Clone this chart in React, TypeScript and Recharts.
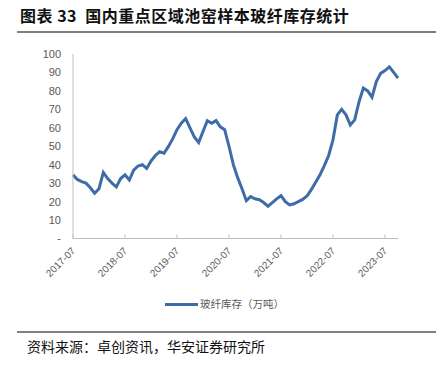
import { LineChart, Line, XAxis, YAxis } from "recharts";

const months = [
  "2017-07", "2017-08", "2017-09", "2017-10", "2017-11", "2017-12",
  "2018-01", "2018-02", "2018-03", "2018-04", "2018-05", "2018-06",
  "2018-07", "2018-08", "2018-09", "2018-10", "2018-11", "2018-12",
  "2019-01", "2019-02", "2019-03", "2019-04", "2019-05", "2019-06",
  "2019-07", "2019-08", "2019-09", "2019-10", "2019-11", "2019-12",
  "2020-01", "2020-02", "2020-03", "2020-04", "2020-05", "2020-06",
  "2020-07", "2020-08", "2020-09", "2020-10", "2020-11", "2020-12",
  "2021-01", "2021-02", "2021-03", "2021-04", "2021-05", "2021-06",
  "2021-07", "2021-08", "2021-09", "2021-10", "2021-11", "2021-12",
  "2022-01", "2022-02", "2022-03", "2022-04", "2022-05", "2022-06",
  "2022-07", "2022-08", "2022-09", "2022-10", "2022-11", "2022-12",
  "2023-01", "2023-02", "2023-03", "2023-04", "2023-05", "2023-06",
  "2023-07", "2023-08", "2023-09", "2023-10",
];

// 玻纤库存（万吨）
const inventory = [
  34.5, 32, 30.8, 30, 27.5, 24.5,
  27, 35.8, 32.5, 30, 28, 32.5,
  34.5, 31.7, 37, 39.3, 40, 38,
  42, 45, 47, 46.2, 49.8, 54,
  59, 62.5, 65, 60, 55, 52,
  58, 63.9, 62.5, 63.9, 60.5, 59,
  50, 40, 33, 27, 20.5, 22.7,
  21.5, 21, 19.5, 17.5, 19.5, 21.5,
  23.2, 20, 18.2, 18.8, 20, 21.2,
  23, 26.5, 30.5, 34.5, 39.5, 45,
  53.5, 67, 70, 67, 61.5, 64.3,
  74, 81.5, 80, 76.6, 85, 89.5,
  91, 93, 90, 86.9,
];

const yTicks = [0, 10, 20, 30, 40, 50, 60, 70, 80, 90, 100];

const data = months.map((m, i) => ({ month: m, value: inventory[i] }));

const LATIN = '"Liberation Sans", Arial, sans-serif';
const CJK = '"Noto Sans CJK SC", sans-serif';

const XTick = ({ x, y, payload }: any) => {
  const tx = x + 3;
  const ty = y + 17;
  return (
    <text
      x={tx}
      y={ty}
      transform={`rotate(-45, ${tx}, ${ty})`}
      textAnchor="end"
      fill="#595959"
      fontSize={10}
      fontFamily={LATIN}
    >
      {payload.value}
    </text>
  );
};

export default function App() {
  return (
    <div
      style={{
        position: "absolute",
        left: 0,
        top: 0,
        width: 436,
        height: 366,
        background: "#fff",
      }}
    >
      <div
        style={{
          position: "absolute",
          left: 20,
          top: 5,
          fontFamily: CJK,
          fontWeight: "bold",
          fontSize: 16,
          letterSpacing: 0.5,
          lineHeight: "20px",
          color: "#111",
          whiteSpace: "nowrap",
        }}
      >
        图表 33&nbsp; 国内重点区域池窑样本玻纤库存统计
      </div>
      <div
        style={{
          position: "absolute",
          left: 17,
          top: 31,
          width: 419,
          height: 2,
          background: "#808080",
        }}
      />
      <div style={{ position: "absolute", left: 0, top: 0 }}>
        <LineChart
          width={436}
          height={300}
          data={data}
          margin={{ top: 54, right: 38, left: 0, bottom: 11.5 }}
        >
          <XAxis
            dataKey="month"
            interval={11}
            axisLine={{ stroke: "#bfbfbf" }}
            tickLine={{ stroke: "#bfbfbf" }}
            tickSize={-4}
            tickMargin={0}
            height={50}
            tick={<XTick />}
          />
          <YAxis
            domain={[0, 100]}
            ticks={yTicks}
            interval={0}
            width={73}
            axisLine={{ stroke: "#bfbfbf" }}
            tickLine={false}
            tickMargin={6}
            tick={{ fill: "#595959", fontSize: 11, fontFamily: LATIN }}
            tickFormatter={(v: number) => (v === 0 ? "-" : String(v))}
          />
          <Line
            type="linear"
            dataKey="value"
            stroke="#3E6CA6"
            strokeWidth={3}
            dot={false}
            isAnimationActive={false}
          />
        </LineChart>
      </div>
      <div
        style={{
          position: "absolute",
          left: 165,
          top: 297,
          display: "flex",
          alignItems: "center",
          whiteSpace: "nowrap",
        }}
      >
        <div style={{ width: 33, height: 3, background: "#3E6CA6" }} />
        <span
          style={{
            marginLeft: 2,
            fontFamily: CJK,
            fontSize: 10.5,
            color: "#595959",
            lineHeight: "14px",
          }}
        >
          玻纤库存（万吨）
        </span>
      </div>
      <div
        style={{
          position: "absolute",
          left: 17,
          top: 331,
          width: 419,
          height: 2,
          background: "#808080",
        }}
      />
      <div
        style={{
          position: "absolute",
          left: 27,
          top: 337,
          fontFamily: CJK,
          fontSize: 14,
          lineHeight: "18px",
          color: "#111",
          whiteSpace: "nowrap",
        }}
      >
        资料来源：卓创资讯，华安证券研究所
      </div>
    </div>
  );
}
